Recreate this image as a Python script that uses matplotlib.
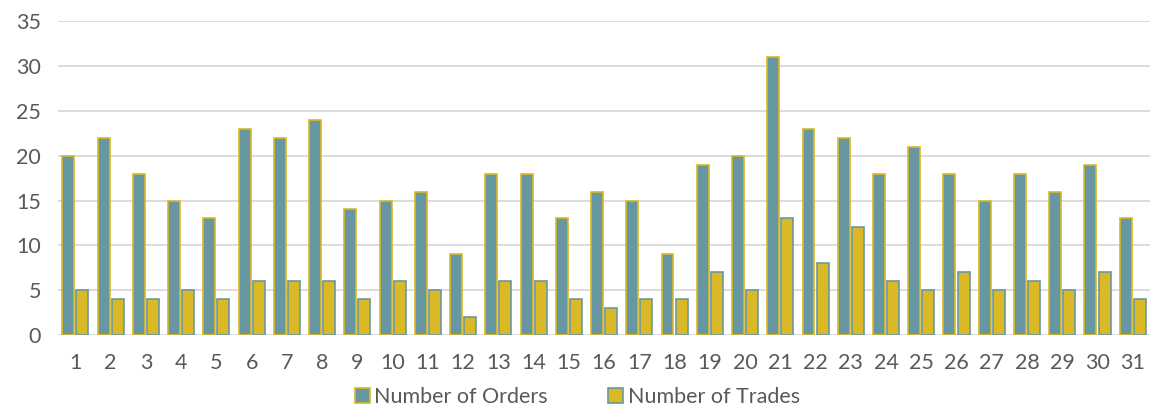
import matplotlib.pyplot as plt
import numpy as np

days = [str(d) for d in range(1, 32)]
orders = [20, 22, 18, 15, 13, 23, 22, 24, 14, 15, 16, 9, 18, 18, 13, 16,
          15, 9, 19, 20, 31, 23, 22, 18, 21, 18, 15, 18, 16, 19, 13]
trades = [5, 4, 4, 5, 4, 6, 6, 6, 4, 6, 5, 2, 6, 6, 4, 3,
          4, 4, 7, 5, 13, 8, 12, 6, 5, 7, 5, 6, 5, 7, 4]

teal = "#6798a1"
gold = "#dbb825"

plt.rcParams['font.family'] = ['Lato', 'DejaVu Sans']

fig = plt.figure(figsize=(11.55, 4.2), dpi=100)
ax = fig.add_axes([0.05, 0.202, 0.946, 0.748])

x = np.arange(len(days))
w = 0.34
ax.bar(x - w / 2 - 0.03, orders, w, color=teal, edgecolor=gold, linewidth=1.2,
       label="Number of Orders", zorder=3)
ax.bar(x + w / 2 + 0.03, trades, w, color=gold, edgecolor=teal, linewidth=1.2,
       label="Number of Trades", zorder=3)

ax.set_xlim(-0.5, len(days) - 0.5)
ax.set_ylim(0, 35)
ax.set_yticks(range(0, 36, 5))
ax.set_xticks(x)
ax.set_xticklabels(days)
ax.grid(axis="y", color="#d9d9d9", linewidth=1.3, zorder=0)
for s in ax.spines.values():
    s.set_visible(False)
ax.tick_params(length=0, labelsize=15.5, colors="#595959")
ax.tick_params(axis="x", pad=13)
ax.tick_params(axis="y", pad=12)

leg = fig.legend(loc="lower center", bbox_to_anchor=(0.5, -0.015), ncol=2, frameon=False,
                 fontsize=15.5, handlelength=0.7, handleheight=0.7, handletextpad=0.2,
                 columnspacing=2.8, labelcolor="#595959")

fig.savefig("out.png", dpi=100)
